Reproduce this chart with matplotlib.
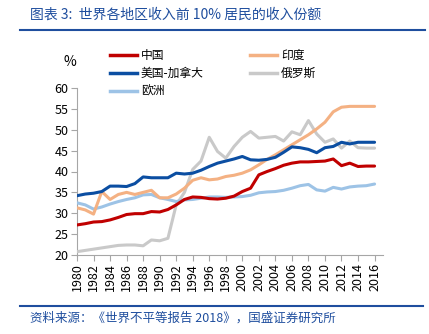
import matplotlib
matplotlib.use("Agg")
import matplotlib.pyplot as plt
from matplotlib.lines import Line2D

plt.rcParams['font.family'] = ['Noto Sans CJK SC', 'DejaVu Sans']

years = list(range(1980, 2017))
china = [27.2, 27.5, 27.9, 28.0, 28.4, 29.0, 29.7, 29.9, 29.9, 30.4, 30.3, 30.9,
         32.0, 33.3, 33.9, 33.8, 33.5, 33.4, 33.6, 34.1, 35.2, 36.0, 39.2, 40.0,
         40.7, 41.5, 42.0, 42.3, 42.3, 42.4, 42.5, 43.0, 41.4, 42.0, 41.2, 41.3, 41.3]
india = [31.3, 30.8, 29.8, 35.2, 33.3, 34.5, 35.0, 34.5, 35.0, 35.5, 33.7, 33.7,
         34.6, 36.0, 37.9, 38.5, 38.0, 38.2, 38.8, 39.1, 39.6, 40.4, 41.6, 42.9,
         44.0, 45.2, 46.4, 47.6, 48.8, 50.2, 51.8, 54.3, 55.4, 55.6, 55.6, 55.6, 55.6]
usa_canada = [34.2, 34.6, 34.8, 35.2, 36.5, 36.5, 36.4, 37.1, 38.7, 38.5, 38.5, 38.5,
              39.6, 39.4, 39.6, 40.3, 41.2, 42.0, 42.5, 43.0, 43.6, 42.8, 42.7, 42.9,
              43.4, 44.6, 45.9, 45.7, 45.3, 44.5, 45.7, 46.0, 47.0, 46.6, 47.0, 47.0, 47.0]
russia = [20.8, 21.1, 21.4, 21.7, 22.0, 22.3, 22.4, 22.4, 22.2, 23.6, 23.4, 24.0,
          32.0, 35.0, 40.5, 42.5, 48.2, 44.8, 43.2, 46.0, 48.2, 49.6, 48.0, 48.2,
          48.4, 47.3, 49.5, 48.8, 52.2, 49.0, 47.0, 47.8, 45.6, 47.3, 45.7, 45.6, 45.6]
europe = [32.5, 32.0, 31.0, 31.5, 32.2, 32.8, 33.3, 33.7, 34.4, 34.5, 33.7, 33.3,
          32.8, 33.2, 33.3, 33.6, 33.9, 33.9, 33.8, 33.9, 34.0, 34.3, 34.9, 35.1,
          35.2, 35.5, 36.0, 36.6, 36.9, 35.6, 35.3, 36.2, 35.8, 36.3, 36.5, 36.6, 37.0]

names = ['中国', '印度', '美国-加拿大', '俄罗斯', '欧洲']
title = '图表 3:  世界各地区收入前 10% 居民的收入份额'
source = '资料来源：《世界不平等报告 2018》，国盛证券研究所'

colors = {'中国': '#C00000', '印度': '#F4B183', '美国-加拿大': '#0B4EA2',
          '俄罗斯': '#C9C9C9', '欧洲': '#9DC3E6'}
series = {'中国': china, '印度': india, '美国-加拿大': usa_canada,
          '俄罗斯': russia, '欧洲': europe}

W, H = 429, 334
fig = plt.figure(figsize=(W / 100, H / 100), dpi=100)
ax = fig.add_axes([77 / W, 1 - 255 / H, (382 - 77) / W, (255 - 88) / H])

order = ['俄罗斯', '欧洲', '印度', '中国', '美国-加拿大']
for n in order:
    ax.plot(years, series[n], color=colors[n], lw=2.2, solid_joinstyle='round',
            solid_capstyle='round', zorder=3)

ax.set_xlim(1980, 2016)
ax.set_ylim(20, 60)
ax.set_yticks(range(20, 61, 5))
ax.set_xticks(range(1980, 2017, 2))
ax.set_xticklabels([str(y) for y in range(1980, 2017, 2)], rotation=90)
ax.tick_params(axis='both', labelsize=9, color='#A6A6A6', length=4, width=0.8,
               direction='out', pad=2)
ax.set_xticks(range(1980, 2017, 1), minor=False) if False else None
for s in ['top', 'right']:
    ax.spines[s].set_visible(False)
for s in ['left', 'bottom']:
    ax.spines[s].set_color('#A6A6A6')
    ax.spines[s].set_linewidth(0.8)
ax.spines['bottom'].set_bounds(1980, 2017)
ax.set_xlim(1980, 2016.9)

fig.text(70 / W, 1 - 62 / H, '%', fontsize=10, ha='center', va='center')

# legend
leg_items = [('中国', 110, 55), ('印度', 250, 55), ('美国-加拿大', 110, 73),
             ('俄罗斯', 250, 73), ('欧洲', 110, 91)]
for n, x0, y0 in leg_items:
    fig.add_artist(Line2D([x0 / W, (x0 + 27) / W], [1 - y0 / H, 1 - y0 / H],
                          color=colors[n], lw=2.5))
    fig.text((x0 + 31) / W, 1 - y0 / H, n, fontsize=8.5, ha='left', va='center')

# title and source
tcol = '#1F4E9E'
fig.text(30 / W, 1 - 15 / H, title, fontsize=10, color=tcol, ha='left', va='center')
fig.add_artist(Line2D([20 / W, 425 / W], [1 - 29.5 / H, 1 - 29.5 / H], color=tcol, lw=1.5))
fig.add_artist(Line2D([20 / W, 423 / W], [1 - 306 / H, 1 - 306 / H], color=tcol, lw=1.5))
fig.text(30 / W, 1 - 318 / H, source, fontsize=9, color=tcol, ha='left', va='center')

fig.savefig('out.png', dpi=100)
